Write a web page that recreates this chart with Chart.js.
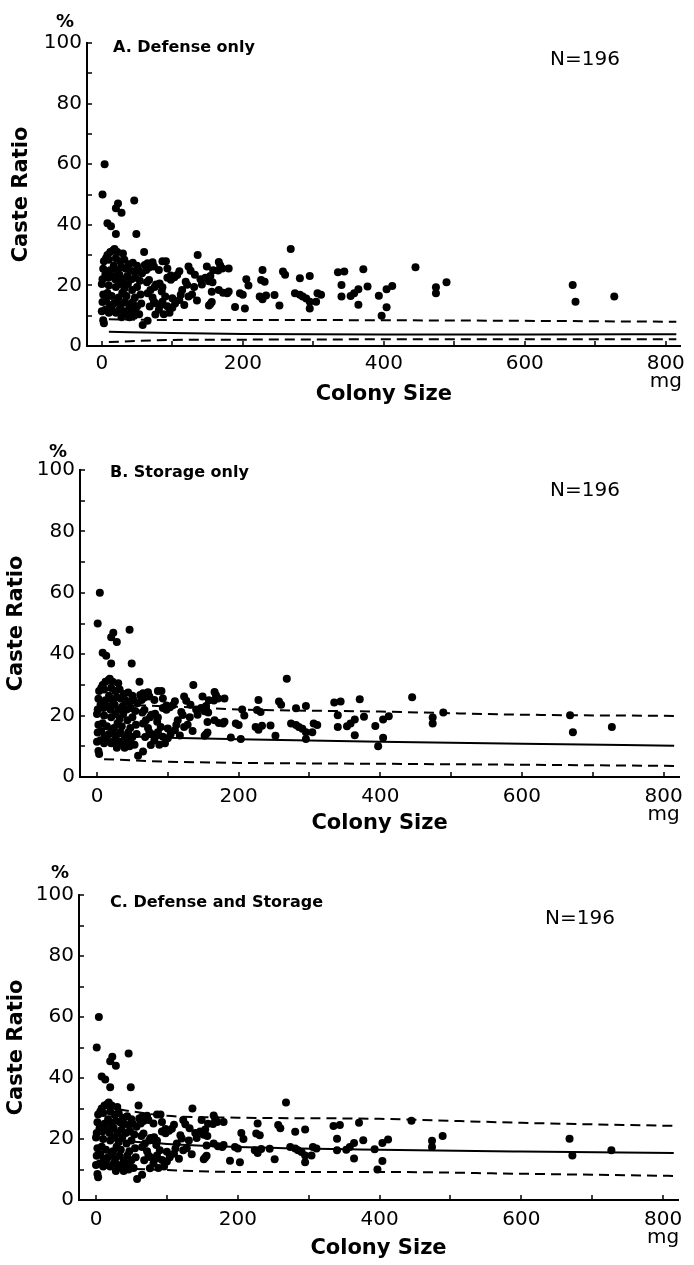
<!DOCTYPE html>
<html>
<head>
<meta charset="utf-8">
<script src="https://cdn.jsdelivr.net/npm/chart.js@4.4.1/dist/chart.umd.min.js"></script>
<style>
  html, body { margin: 0; padding: 0; background: #fff; }
  body { width: 694px; height: 1265px; position: relative; overflow: hidden; }
  canvas { position: absolute; left: 0; }
</style>
</head>
<body>
<canvas id="panelA" width="694" height="420" style="top:0"></canvas>
<canvas id="panelB" width="694" height="420" style="top:420px"></canvas>
<canvas id="panelC" width="694" height="425" style="top:840px"></canvas>
<script>
// observed colonies (same points in every panel)
const colonySize = [
  4, 1, 23, 20, 28, 46, 8, 13, 20, 49, 60, 16,
  8, 12, 18, 22, 30,
  3, 6, 10, 20, 26, 32, 38, 44, 50,
  2, 12, 17, 22, 28, 34, 40, 46, 52, 57, 5, 25, 36,
  1, 9, 15, 19, 30, 42, 48, 54, 0, 10, 26, 37, 50, 20, 32,
  2, 8, 14, 24, 29, 35, 43, 47, 55,
  1, 6, 11, 17, 22, 27, 33, 39, 44, 50, 56,
  0, 5, 10, 14, 20, 25, 31, 36, 42, 48, 53,
  2, 3, 28, 39, 46,
  61, 63, 65, 67, 72, 74, 81, 86, 91,
  93, 98, 93, 103, 107, 110, 123, 126, 132, 140, 136,
  64, 67, 77, 82, 75, 86, 98, 119, 121, 131,
  65, 69, 72, 85, 90, 100, 114, 112, 110, 123, 128, 135,
  68, 74, 76, 84, 86, 93, 104, 117,
  76, 81, 88, 96, 100,
  58, 65,
  154, 156, 152, 156, 157, 154, 152, 147, 142, 149, 158,
  166, 168, 165, 171, 180, 166, 172, 178, 180,
  189, 196, 200, 205, 208, 203,
  228, 226, 231, 224, 228, 233, 245, 252,
  268, 257, 260, 274, 281, 281, 295, 285, 290, 295, 295, 304, 306, 311,
  340, 340, 335, 344,
  353, 358, 364, 364, 371, 377, 393, 404, 412, 404, 397,
  445, 474, 474, 489, 668, 672, 727
];
const casteRatio = [
  60, 50, 47, 45.5, 44, 48, 40.5, 39.5, 37, 37, 31, 31.5,
  30, 31, 32, 31, 30.5,
  28, 29, 28.5, 29, 28, 28.5, 27, 27.5, 26.5,
  25.5, 25, 26.5, 25, 26, 25.5, 25, 24.5, 25, 24, 23.5, 23.5, 23,
  22, 22.5, 23, 22, 22, 22, 22.5, 21.5, 20.5, 20, 20.5, 20.5, 19.5, 19.5, 19,
  17, 17.5, 16.5, 16, 17.5, 16.5, 18.5, 16, 17,
  14.5, 15, 13.5, 14, 15, 13.5, 14.5, 13, 14.5, 13, 14,
  11.5, 12, 11, 12.5, 11, 12, 11.5, 10.5, 12, 11, 10.5,
  8.5, 7.5, 9.5, 9.5, 10,
  26.7, 25.1, 27.3, 25.9, 27.6, 26.2, 25.1, 28, 28,
  25.6, 23.3, 22.5, 22.7, 23.4, 24.7, 26.2, 24.8, 23.5, 22, 30,
  21, 21.8, 20.3, 20.6, 19.5, 19.4, 21.9, 21.2, 20.2, 19.5,
  17.4, 18.5, 16, 18, 16.3, 15.8, 18.5, 16.9, 15.2, 16.3, 17, 15,
  13, 14.6, 14.1, 13.5, 14.6, 13.1, 14, 13.5,
  10.4, 12, 10.5, 11, 12.6,
  6.9, 8.3,
  13.9, 14.5, 13.4, 17.9, 21, 23.1, 21.4, 22.5, 20.3, 26.2, 25,
  27.7, 26.6, 24.9, 25.6, 25.6, 18.5, 17.6, 17.4, 18,
  12.9, 17.4, 16.9, 22, 20, 12.4,
  25.1, 21.8, 21.2, 16.3, 15.4, 16.7, 16.8, 13.4,
  32, 24.6, 23.5, 17.4, 16.9, 22.4, 23.1, 16.3, 15.7, 14.6, 12.4, 14.6, 17.4, 16.9,
  20.1, 16.3, 24.3, 24.6,
  16.5, 17.4, 18.7, 13.6, 25.3, 19.6, 16.6, 18.7, 19.8, 12.8, 10,
  26, 19.4, 17.4, 21, 20.1, 14.6, 16.3
];

// model curves (expected ratio and limits), read at these colony sizes
const curveX = [10, 100, 200, 400, 600, 815];
const defenseUpper = [8.8, 8.6, 8.6, 8.5, 8.3, 8.0];
const defenseMean  = [4.7, 4.3, 4.0, 3.8, 3.8, 3.9];
const defenseLower = [1.3, 2.0, 2.1, 2.2, 2.2, 2.2];
const storageUpper = [23.8, 23.0, 22.0, 21.3, 20.3, 19.9];
const storageMean  = [13.5, 12.8, 12.3, 11.5, 10.8, 10.2];
const storageLower = [5.8, 5.0, 4.6, 4.3, 4.0, 3.6];
const bothUpper = [30.5, 27.6, 27.0, 26.6, 25.3, 24.3];
const bothMean  = [19.8, 18.4, 17.4, 16.5, 15.9, 15.4];
const bothLower = [10.6, 9.8, 9.2, 9.2, 8.6, 7.9];

const xTicks = [0, 200, 400, 600, 800];
const xMinor = [100, 300, 500, 700];
const yTicks = [0, 20, 40, 60, 80, 100];
const yMinor = [10, 30, 50, 70, 90];
const xUnit = "mg";
const nLabel = "N=196";

Chart.defaults.font.family = '"DejaVu Sans"';
Chart.defaults.color = "#000";

const decor = {
  id: "decor",
  afterDraw(chart, args, o) {
    const { ctx, scales: { x, y }, chartArea: a } = chart;
    ctx.save();
    ctx.strokeStyle = "#000";
    ctx.lineWidth = 1.5;
    ctx.beginPath();
    [...yTicks, ...yMinor].forEach((v) => {
      const py = Math.round(y.getPixelForValue(v));
      ctx.moveTo(a.left, py);
      ctx.lineTo(a.left + 5, py);
    });
    [...xTicks, ...xMinor].forEach((v) => {
      const px = Math.round(x.getPixelForValue(v));
      ctx.moveTo(px, a.bottom);
      ctx.lineTo(px, a.bottom - 5);
    });
    ctx.stroke();

    ctx.fillStyle = "#000";
    ctx.textBaseline = "middle";
    ctx.textAlign = "left";
    ctx.font = 'bold 16px "DejaVu Sans"';
    ctx.fillText(o.title, o.titleX, o.titleY);
    ctx.font = '20px "DejaVu Sans"';
    ctx.fillText(nLabel, o.nX, o.nY);
    ctx.textAlign = "center";
    ctx.font = 'bold 18px "DejaVu Sans"';
    ctx.fillText("%", o.pctX, o.pctY);
    ctx.restore();
  },
};

function curve(values, dashed) {
  return {
    type: "scatter",
    showLine: true,
    data: curveX.map((x, i) => ({ x, y: values[i] })),
    borderColor: "#000",
    borderWidth: 2,
    borderDash: dashed ? [10, 6] : [],
    pointRadius: 0,
    fill: false,
    cubicInterpolationMode: "monotone",
  };
}

function makePanel(id, p) {
  new Chart(document.getElementById(id), {
    type: "scatter",
    data: {
      datasets: [
        {
          data: colonySize.map((x, i) => ({ x, y: casteRatio[i] })),
          backgroundColor: "#000",
          borderWidth: 0,
          pointRadius: 4,
        },
        curve(p.upper, true),
        curve(p.mean, false),
        curve(p.lower, true),
      ],
    },
    options: {
      responsive: false,
      animation: false,
      devicePixelRatio: 1,
      layout: { padding: { top: p.area.top, right: 694 - p.area.right, left: 0, bottom: 0 } },
      plugins: {
        legend: { display: false },
        tooltip: { enabled: false },
        decor: p.decor,
      },
      scales: {
        x: {
          type: "linear",
          min: p.xMin,
          max: p.xMax,
          afterBuildTicks: (s) => { s.ticks = xTicks.map((v) => ({ value: v })); },
          afterFit: (s) => { s.height = p.height - p.area.bottom; },
          grid: { display: false, drawTicks: false },
          border: { color: "#000", width: 2 },
          ticks: {
            color: "#000",
            autoSkip: false,
            maxRotation: 0,
            padding: p.tickPad,
            font: { size: 20, lineHeight: 0.9 },
            callback: (v) => (v === xTicks[xTicks.length - 1] ? [String(v), xUnit] : String(v)),
          },
          title: {
            display: true,
            text: "Colony Size",
            color: "#000",
            font: { size: 21, weight: "bold" },
            padding: { top: 0, bottom: p.xTitlePad },
          },
        },
        y: {
          type: "linear",
          min: 0,
          max: 100,
          afterBuildTicks: (s) => { s.ticks = yTicks.map((v) => ({ value: v })); },
          afterFit: (s) => { s.width = p.area.left; },
          grid: { display: false, drawTicks: false },
          border: { color: "#000", width: 2 },
          ticks: { color: "#000", padding: 5, font: { size: 20 } },
          title: {
            display: true,
            text: "Caste Ratio",
            color: "#000",
            font: { size: 21, weight: "bold" },
            padding: { top: p.yTitlePad, bottom: 0 },
          },
        },
      },
    },
    plugins: [decor],
  });
}

makePanel("panelA", {
  area: { left: 87, top: 43, right: 687, bottom: 346 },
  height: 420, xMin: -21, xMax: 821, tickPad: 9, xTitlePad: 13, yTitlePad: 9,
  upper: defenseUpper, mean: defenseMean, lower: defenseLower,
  decor: { title: "A. Defense only", titleX: 113, titleY: 48, nX: 550, nY: 60, pctX: 65, pctY: 22 },
});
makePanel("panelB", {
  area: { left: 80, top: 50, right: 680, bottom: 357 },
  height: 420, xMin: -24, xMax: 822, tickPad: 11, xTitlePad: 4, yTitlePad: 4,
  upper: storageUpper, mean: storageMean, lower: storageLower,
  decor: { title: "B. Storage only", titleX: 110, titleY: 53, nX: 550, nY: 71, pctX: 58, pctY: 32 },
});
makePanel("panelC", {
  area: { left: 79, top: 55, right: 678, bottom: 360 },
  height: 425, xMin: -24, xMax: 821, tickPad: 11, xTitlePad: 4, yTitlePad: 4,
  upper: bothUpper, mean: bothMean, lower: bothLower,
  decor: { title: "C. Defense and Storage", titleX: 110, titleY: 63, nX: 545, nY: 79, pctX: 60, pctY: 33 },
});
</script>
</body>
</html>
